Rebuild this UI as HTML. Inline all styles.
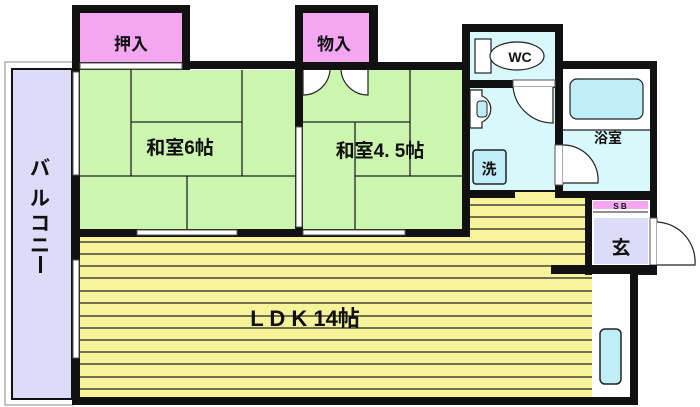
<!DOCTYPE html>
<html><head><meta charset="utf-8"><style>
html,body{margin:0;padding:0;background:#fff}
svg{display:block}
text{font-family:"Liberation Sans","Noto Sans CJK JP",sans-serif;font-weight:bold;fill:#111}
</style></head><body>
<svg width="700" height="407" viewBox="0 0 700 407" xmlns="http://www.w3.org/2000/svg">
<!-- balcony -->
<rect x="5" y="62" width="68" height="343" fill="#fff" stroke="#888" stroke-width="1"/>
<rect x="12" y="69" width="60" height="330" fill="#dcdcf8" stroke="#111" stroke-width="2"/>
<text x="40" y="175" font-size="20" text-anchor="middle">バ</text>
<text x="40" y="205" font-size="20" text-anchor="middle">ル</text>
<text x="40" y="230" font-size="20" text-anchor="middle">コ</text>
<text x="40" y="252" font-size="20" text-anchor="middle">ニ</text>
<rect x="39" y="256" width="3" height="17" fill="#111"/>

<!-- closets -->
<rect x="72" y="5" width="118" height="65" fill="#111"/>
<rect x="80" y="13" width="102" height="49" fill="#f4a6f0"/>
<text x="131" y="50" font-size="17" text-anchor="middle">押入</text>
<rect x="295" y="5" width="83" height="65" fill="#111"/>
<rect x="303" y="13" width="66" height="49" fill="#f4a6f0"/>
<text x="334" y="50" font-size="17" text-anchor="middle">物入</text>
<!-- top walls -->
<rect x="182" y="61" width="120" height="8" fill="#111"/>
<rect x="368" y="62" width="100" height="8" fill="#111"/>

<!-- left wall -->
<rect x="72" y="62" width="8" height="343" fill="#111"/>
<rect x="73" y="72" width="6" height="103" fill="#fff" stroke="#555" stroke-width="1"/>
<rect x="73" y="260" width="6" height="98" fill="#fff" stroke="#555" stroke-width="1"/>

<!-- tatami 6 -->
<rect x="80" y="70" width="215" height="160" fill="#ccf5b0"/>
<g stroke="#222" stroke-width="1.3" fill="none">
<line x1="131" y1="70" x2="131" y2="176"/>
<line x1="131" y1="122" x2="242" y2="122"/>
<line x1="242" y1="70" x2="242" y2="176"/>
<line x1="80" y1="176" x2="295" y2="176"/>
<line x1="187" y1="176" x2="187" y2="230"/>
</g>
<rect x="80" y="63" width="102" height="6" fill="#fff" stroke="#555" stroke-width="1"/>
<text x="180" y="154" font-size="19" text-anchor="middle">和室6帖</text>

<!-- wall between tatami -->
<rect x="295" y="69" width="8" height="160" fill="#111"/>
<rect x="296" y="127" width="6" height="100" fill="#fff" stroke="#555" stroke-width="1"/>

<!-- tatami 4.5 -->
<rect x="303" y="70" width="160" height="160" fill="#ccf5b0"/>
<g stroke="#222" stroke-width="1.3" fill="none">
<line x1="303" y1="122" x2="410" y2="122"/>
<line x1="410" y1="70" x2="410" y2="176"/>
<line x1="355" y1="122" x2="355" y2="230"/>
<line x1="355" y1="176" x2="463" y2="176"/>
</g>
<path d="M303 70 L303 95 A27 27 0 0 0 330 70 M368 70 L368 95 A27 27 0 0 1 341 70" fill="#fff" stroke="#222" stroke-width="1.2"/>
<text x="380" y="157" font-size="19" text-anchor="middle">和室4. 5帖</text>

<!-- room bottom wall -->
<rect x="72" y="229" width="398" height="8" fill="#111"/>
<rect x="137" y="230" width="100" height="5" fill="#fff" stroke="#555" stroke-width="1"/>
<rect x="303" y="230" width="102" height="5" fill="#fff" stroke="#555" stroke-width="1"/>

<!-- wet area walls -->
<rect x="462" y="24" width="101" height="174" fill="#111"/>
<rect x="462" y="190" width="8" height="47" fill="#111"/>
<rect x="470" y="32" width="85" height="48" fill="#d8f8fc"/>
<rect x="470" y="88" width="85" height="102" fill="#d8f8fc"/>
<rect x="555" y="61" width="102" height="137" fill="#111"/>
<rect x="563" y="69" width="87" height="122" fill="#d8f8fc"/>
<rect x="563" y="69" width="87" height="61" fill="#fff"/>
<line x1="563" y1="130" x2="650" y2="130" stroke="#222" stroke-width="1.2"/>
<rect x="570" y="79" width="73" height="40" rx="7" fill="#bfeef8" stroke="#222" stroke-width="1.2"/>
<text x="608" y="143" font-size="14" text-anchor="middle">浴室</text>
<rect x="555" y="145" width="8" height="40" fill="#fff" stroke="#555" stroke-width="1"/>
<path d="M563 145 A35 35 0 0 1 598 183 L563 183" fill="#fff" stroke="#222" stroke-width="1.2"/>
<!-- WC -->
<rect x="475" y="39" width="16" height="34" fill="#fff" stroke="#222" stroke-width="1.2"/>
<ellipse cx="517" cy="56" rx="27" ry="14" fill="#fff" stroke="#222" stroke-width="1.2"/>
<text x="520" y="62" font-size="14" text-anchor="middle">WC</text>
<rect x="513" y="80" width="42" height="7" fill="#fff" stroke="#555" stroke-width="1"/>
<path d="M513 87 A40 40 0 0 0 553 123 L553 87" fill="#fff" stroke="#222" stroke-width="1.2"/>
<path d="M470 90 L482 90 L482 96 A14 14 0 0 1 482 122 L482 128 L470 128 Z" fill="#fff" stroke="#222" stroke-width="1.2"/>
<rect x="477" y="101" width="10" height="16" rx="3" fill="#bfeef8" stroke="#222"/>
<rect x="473" y="150" width="33" height="34" rx="3" fill="#bfeef8" stroke="#222" stroke-width="1.5"/>
<text x="489" y="174" font-size="15" text-anchor="middle">洗</text>
<rect x="515" y="192" width="40" height="6" fill="#f7f39a"/>

<!-- LDK -->
<rect x="470" y="198" width="116" height="67" fill="#f7f39a"/>
<rect x="80" y="237" width="512" height="161" fill="#f7f39a"/>
<g stroke="#222" stroke-width="1.2">
<line x1="470" y1="205" x2="586" y2="205"/><line x1="470" y1="217" x2="586" y2="217"/>
<line x1="470" y1="229" x2="586" y2="229"/>
<line x1="80" y1="242" x2="586" y2="242"/><line x1="80" y1="254" x2="586" y2="254"/>
<line x1="80" y1="266" x2="551" y2="266"/><line x1="80" y1="278" x2="592" y2="278"/>
<line x1="80" y1="291" x2="592" y2="291"/><line x1="80" y1="303" x2="592" y2="303"/>
<line x1="80" y1="316" x2="592" y2="316"/><line x1="80" y1="328" x2="592" y2="328"/>
<line x1="80" y1="340" x2="592" y2="340"/><line x1="80" y1="352" x2="592" y2="352"/>
<line x1="80" y1="364" x2="592" y2="364"/><line x1="80" y1="377" x2="592" y2="377"/>
<line x1="80" y1="389" x2="592" y2="389"/>
</g>
<text x="305" y="326" font-size="22" text-anchor="middle">L D K 14帖</text>

<!-- genkan -->
<rect x="585" y="195" width="72" height="80" fill="#111"/>
<rect x="592" y="200" width="58" height="65" fill="#fff"/>
<rect x="593" y="201" width="55" height="8" fill="#f4a6f0"/>
<text x="620" y="209" font-size="8" text-anchor="middle">S B</text>
<line x1="593" y1="212" x2="648" y2="212" stroke="#222"/>
<rect x="594" y="218" width="54" height="46" fill="#dcdcf8"/>
<text x="621" y="254" font-size="19" text-anchor="middle">玄</text>
<rect x="650" y="218" width="7" height="47" fill="#fff" stroke="#555" stroke-width="1"/>
<path d="M657 222 A40 40 0 0 1 695 265 L657 265" fill="#fff" stroke="#222" stroke-width="1.2"/>
<rect x="551" y="265" width="106" height="9" fill="#111"/>

<!-- right strip -->
<rect x="592" y="274" width="38" height="124" fill="#fff"/>
<rect x="600" y="329" width="21" height="55" rx="5" fill="#bfeef8" stroke="#222" stroke-width="1.5"/>
<rect x="630" y="270" width="8" height="135" fill="#111"/>
<rect x="72" y="397" width="566" height="8" fill="#111"/>
</svg>
</body></html>
